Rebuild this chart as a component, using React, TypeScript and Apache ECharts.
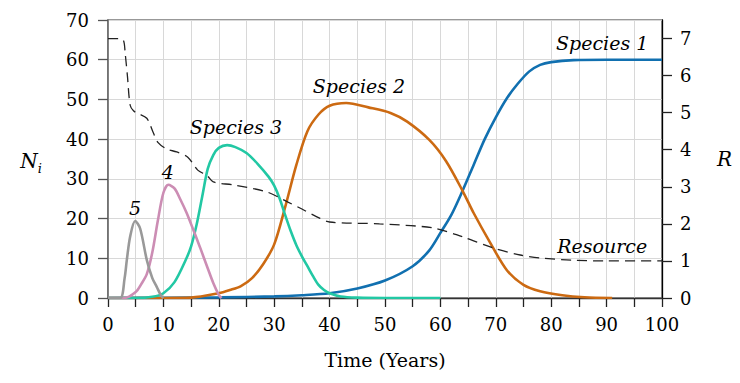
import React, { useEffect, useRef } from "react";
import * as echarts from "echarts";

// ---- data ----
const tS1 = [0, 10, 20, 30, 35, 40, 45, 50, 55, 58, 60, 62, 64, 66, 68, 70, 72, 74, 76, 78, 80, 84, 90, 100];
const vS1 = [0, 0.05, 0.15, 0.4, 0.7, 1.2, 2.4, 4.4, 8, 12, 16.4, 21, 27, 33.5, 40, 45.5, 50.3, 54, 57, 58.7, 59.4, 59.9, 60, 60];

const tS2 = [0, 10, 15, 20, 22, 24, 26, 28, 30, 32, 34, 36, 38, 40, 43, 47, 51, 54, 58, 61, 64, 66, 69, 72, 75, 78, 82, 86, 91];
const vS2 = [0, 0, 0.1, 1.2, 2, 3, 5, 8.5, 13.5, 23, 33.5, 42, 46.2, 48.4, 49.1, 48, 46.6, 44.4, 39.8, 34.5, 27, 21.4, 13.9, 7, 3.3, 1.7, 0.7, 0.2, 0];

const tS3 = [0, 5, 8, 10, 12, 14, 15, 16, 17, 18, 19, 20, 21.5, 23, 25, 27, 29, 30, 31, 32, 33, 34, 35, 36, 37, 38, 39, 40, 42, 45, 50, 60];
const vS3 = [0, 0, 0.3, 1.2, 4, 9.5, 13, 18.5, 25.5, 32.5, 36, 37.8, 38.5, 38, 36.5, 33.8, 30.5, 28.3, 25, 20.8, 16.8, 13.3, 10.5, 8, 5.5, 3.3, 2, 1.2, 0.4, 0.1, 0, 0];

const tS4 = [0, 3, 5, 6, 7, 8, 9, 10, 10.9, 12, 13, 14.2, 15.5, 16.6, 18, 19, 20, 20.5];
const vS4 = [0, 0, 1.5, 3.5, 6, 11.5, 19.5, 26.5, 28.5, 27.6, 25, 21.4, 16.8, 12.8, 7.5, 3.8, 0.8, 0];

const tS5 = [0, 2.2, 3, 3.4, 4, 4.9, 5.8, 7, 8, 8.8, 9.5, 10];
const vS5 = [0, 0, 5, 9.6, 15.5, 19.4, 17.5, 9.6, 5, 2.8, 0.8, 0];

const tRes = [0, 2, 2.8, 3.1, 3.5, 4, 4.6, 5.4, 7, 8.2, 9, 10.6, 12.4, 14.4, 16.2, 17.9, 19, 22.6, 28.7, 32.3, 35, 37.7, 40, 49, 58.7, 64, 69.5, 74.4, 78, 84, 90, 100];
const vRes = [7, 7, 6.95, 6.6, 6.0, 5.2, 5.05, 4.98, 4.85, 4.45, 4.2, 4.02, 3.94, 3.8, 3.45, 3.3, 3.13, 3.05, 2.86, 2.6, 2.4, 2.19, 2.05, 2.0, 1.89, 1.65, 1.35, 1.16, 1.08, 1.02, 1.0, 1.0];

const xTicks = [0, 100, 5];
const leftTicks = [0, 70, 10];
const rightTickValues = [0, 1, 2, 3, 4, 5, 6, 7];

const annotations = [
  { text: "Species 1", t: 89.2, v: 64.2 },
  { text: "Species 2", t: 45.3, v: 53.4 },
  { text: "Species 3", t: 23.1, v: 43 },
  { text: "4", t: 10.8, v: 31.7 },
  { text: "5", t: 4.9, v: 22.7 },
  { text: "Resource", t: 89.2, v: 13.1 },
];

const zip = (t: number[], v: number[]) => t.map((x, i) => [x, v[i]]);

const FONT = "DejaVu Serif";

export default function App() {
  const ref = useRef<HTMLDivElement>(null);
  useEffect(() => {
    document.body.style.margin = "0";
    const chart = echarts.init(ref.current!, undefined, { renderer: "svg" });
    const lineSeries = (name: string, data: number[][], color: string, yAxisIndex = 0, dashed = false) => ({
      name,
      type: "line",
      data,
      yAxisIndex,
      smooth: 0.3,
      showSymbol: false,
      symbol: "none",
      lineStyle: dashed
        ? { color: "#222", width: 1.3, type: [10, 6] }
        : { color, width: 2.6 },
      z: dashed ? 10 : 3,
    });
    chart.setOption({
      animation: false,
      textStyle: { fontFamily: FONT },
      grid: {
        left: 108,
        right: 78,
        top: 20,
        bottom: 85,
        show: true,
        borderColor: "#777",
        borderWidth: 1.5,
      },
      xAxis: {
        type: "value",
        min: xTicks[0],
        max: xTicks[1],
        interval: xTicks[2],
        name: "Time (Years)",
        nameLocation: "middle",
        nameGap: 52,
        nameTextStyle: { fontFamily: FONT, fontSize: 19, color: "#000" },
        axisLine: { show: true, lineStyle: { color: "#333", width: 1.3 } },
        axisTick: { show: true, inside: false, length: 9, lineStyle: { color: "#222", width: 1.3 } },
        axisLabel: {
          fontFamily: FONT,
          fontSize: 18,
          color: "#000",
          margin: 17,
          formatter: (v: number) => (v % 10 === 0 ? String(v) : ""),
        },
        splitLine: { show: true, lineStyle: { color: "#d8d8d8", width: 1 } },
      },
      yAxis: [
        {
          type: "value",
          min: leftTicks[0],
          max: leftTicks[1],
          interval: leftTicks[2],
          position: "left",
          name: "{n|N}{i|i}",
          nameLocation: "middle",
          nameRotate: 0,
          nameGap: 66,
          nameTextStyle: {
            rich: {
              n: { fontFamily: FONT, fontStyle: "italic", fontSize: 20, color: "#000", verticalAlign: "bottom", lineHeight: 24 },
              i: { fontFamily: FONT, fontStyle: "italic", fontSize: 13, color: "#000", verticalAlign: "bottom", lineHeight: 16, padding: [0, 0, -4, 0] },
            },
          },
          axisLine: { show: true, lineStyle: { color: "#666", width: 1.5 } },
          axisTick: { show: true, inside: false, length: 10, lineStyle: { color: "#555", width: 1.3 } },
          axisLabel: { fontFamily: FONT, fontSize: 18, color: "#000", margin: 19 },
          splitLine: { show: true, lineStyle: { color: "#d8d8d8", width: 1 } },
        },
        {
          type: "value",
          min: 0,
          max: 7.5,
          interval: 1,
          position: "right",
          name: "R",
          nameLocation: "middle",
          nameRotate: 0,
          nameGap: 55,
          nameTextStyle: { fontFamily: FONT, fontStyle: "italic", fontSize: 20, color: "#000" },
          axisLine: { show: true, lineStyle: { color: "#000", width: 1.3 } },
          axisTick: { show: true, inside: false, length: 10, lineStyle: { color: "#222", width: 1.3 }, customValues: rightTickValues },
          axisLabel: { fontFamily: FONT, fontSize: 18, color: "#000", margin: 18, customValues: rightTickValues },
          splitLine: { show: false },
        },
      ],
      series: [
        lineSeries("Species 1", zip(tS1, vS1), "#1170b0"),
        lineSeries("Species 2", zip(tS2, vS2), "#cc6a12"),
        lineSeries("Species 3", zip(tS3, vS3), "#22c8a4"),
        lineSeries("Species 4", zip(tS4, vS4), "#cc8db4"),
        lineSeries("Species 5", zip(tS5, vS5), "#999999"),
        lineSeries("Resource", zip(tRes, vRes), "#222", 1, true),
      ],
    });
    const graphic = annotations.map((a) => {
      const p = chart.convertToPixel({ gridIndex: 0 }, [a.t, a.v]) as number[];
      return {
        type: "text",
        x: p[0],
        y: p[1],
        z: 20,
        style: {
          text: a.text,
          fontFamily: FONT,
          fontStyle: "italic",
          fontSize: 19,
          fill: "#000",
          align: "center",
          verticalAlign: "middle",
        },
      };
    });
    chart.setOption({ graphic });
    return () => chart.dispose();
  }, []);
  return <div ref={ref} style={{ width: 740, height: 383 }} />;
}
